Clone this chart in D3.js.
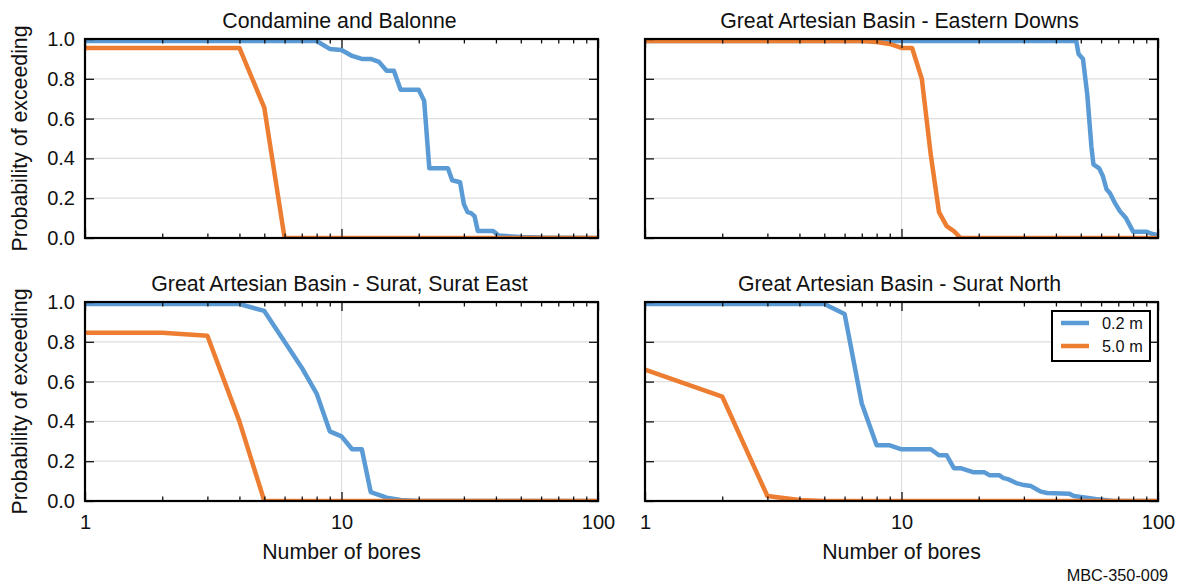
<!DOCTYPE html>
<html><head><meta charset="utf-8">
<script src="https://cdn.jsdelivr.net/npm/d3@7"></script>
<style>
body{margin:0;background:#fff}
svg{display:block}
text{font-family:"Liberation Sans",Arial,sans-serif;fill:#111}
</style>
</head><body>
<svg id="chart" width="1182" height="585"></svg>
<script>
// ---------------- data ----------------
const panelTitles = [
  "Condamine and Balonne",
  "Great Artesian Basin - Eastern Downs",
  "Great Artesian Basin - Surat, Surat East",
  "Great Artesian Basin - Surat North"
];
const seriesLabels = ["0.2 m", "5.0 m"];
const xMajorTicks = [1, 10, 100];
const xMinorTicks = [2,3,4,5,6,7,8,9,20,30,40,50,60,70,80,90];
const yTicks = [0, 0.2, 0.4, 0.6, 0.8, 1.0];
const xAxisTitle = "Number of bores";
const yAxisTitle = "Probability of exceeding";
const footnote = "MBC-350-009";

// [number of bores, probability of exceeding]
const condamine02 = [[1,0.99],[8,0.99],[9,0.95],[10,0.945],[11,0.915],[12,0.9],[13,0.9],[14,0.885],[15,0.84],[16,0.84],[17,0.745],[20,0.745],[21,0.69],[22,0.35],[26,0.35],[27,0.29],[29,0.28],[30,0.17],[31,0.13],[32,0.125],[33,0.11],[34,0.035],[39,0.035],[41,0.012],[50,0.005],[60,0.002],[100,0]];
const condamine50 = [[1,0.955],[4,0.955],[5,0.655],[6,0],[100,0]];

const easternDowns02 = [[1,0.99],[48,0.99],[49,0.925],[51,0.9],[53,0.72],[55,0.46],[56,0.37],[59,0.35],[61,0.31],[63,0.245],[65,0.225],[68,0.175],[71,0.135],[75,0.1],[80,0.032],[90,0.032],[95,0.02],[100,0.015]];
const easternDowns50 = [[1,0.99],[7,0.99],[8,0.985],[9,0.975],[10,0.955],[11,0.955],[12,0.8],[13,0.42],[14,0.13],[15,0.06],[16,0.035],[17,0],[100,0]];

const surat02 = [[1,0.99],[4,0.99],[5,0.955],[6,0.8],[7,0.67],[8,0.54],[9,0.35],[10,0.325],[11,0.26],[12,0.26],[13,0.045],[15,0.017],[17,0.005],[20,0],[100,0]];
const surat50 = [[1,0.845],[2,0.845],[3,0.83],[4,0.4],[5,0],[100,0]];

const suratNorth02 = [[1,0.99],[5,0.99],[6,0.94],[7,0.49],[8,0.28],[9,0.28],[10,0.26],[13,0.26],[14,0.23],[15,0.23],[16,0.165],[17,0.165],[19,0.145],[21,0.145],[22,0.13],[24,0.13],[25,0.115],[26,0.11],[28,0.09],[30,0.08],[32,0.075],[34,0.055],[35,0.047],[37,0.04],[45,0.037],[47,0.025],[50,0.02],[57,0.01],[67,0],[100,0]];
const suratNorth50 = [[1,0.66],[2,0.525],[3,0.025],[4,0.005],[5,0],[100,0]];

const panelSeries = [
  [condamine02, condamine50],
  [easternDowns02, easternDowns50],
  [surat02, surat50],
  [suratNorth02, suratNorth50]
];

// ---------------- layout / style ----------------
const colors = ["#5b9bd5", "#ed7d31"];
const colLefts = [85, 645];
const rowTops = [39, 302];
const pw = 513, ph = 199;
const fontTick = 20, fontLabel = 21.3, fontSmall = 16.3;

const svg = d3.select("#chart");
const defs = svg.append("defs");

panelTitles.forEach((title, i) => {
  const col = i % 2, row = Math.floor(i / 2);
  const x0 = colLefts[col], y0 = rowTops[row];
  const x = d3.scaleLog().domain([1, 100]).range([x0, x0 + pw]);
  const y = d3.scaleLinear().domain([0, 1]).range([y0 + ph, y0]);
  const g = svg.append("g");

  defs.append("clipPath").attr("id", "clip" + i)
    .append("rect").attr("x", x0).attr("y", y0).attr("width", pw).attr("height", ph);

  // grid
  g.append("g").selectAll("line").data(yTicks.slice(1, -1)).join("line")
    .attr("x1", x0).attr("x2", x0 + pw)
    .attr("y1", d => y(d)).attr("y2", d => y(d))
    .attr("stroke", "#dedede").attr("stroke-width", 1.2);
  g.append("line").attr("x1", x(10)).attr("x2", x(10)).attr("y1", y0).attr("y2", y0 + ph)
    .attr("stroke", "#dedede").attr("stroke-width", 1.2);

  // lines
  const line = d3.line().x(d => x(d[0])).y(d => y(d[1]));
  const lg = g.append("g").attr("clip-path", `url(#clip${i})`);
  panelSeries[i].forEach((s, k) => {
    lg.append("path").datum(s).attr("d", line)
      .attr("fill", "none").attr("stroke", colors[k]).attr("stroke-width", 4.5)
      .attr("stroke-linejoin", "round");
  });

  // axes with inward ticks
  const fmtY = d3.format(".1f");
  const axB = d3.axisBottom(x).tickValues(xMajorTicks).tickSizeInner(-9).tickSizeOuter(0).tickPadding(14)
    .tickFormat(row === 1 ? d3.format("d") : () => "");
  const axBm = d3.axisBottom(x).tickValues(xMinorTicks).tickSizeInner(-4.5).tickSizeOuter(0).tickFormat(() => "");
  const axT = d3.axisTop(x).tickValues(xMajorTicks).tickSizeInner(-9).tickSizeOuter(0).tickFormat(() => "");
  const axTm = d3.axisTop(x).tickValues(xMinorTicks).tickSizeInner(-4.5).tickSizeOuter(0).tickFormat(() => "");
  const axL = d3.axisLeft(y).tickValues(yTicks).tickSizeInner(-9).tickSizeOuter(0).tickPadding(10)
    .tickFormat(col === 0 ? fmtY : () => "");
  const axR = d3.axisRight(y).tickValues(yTicks).tickSizeInner(-9).tickSizeOuter(0).tickFormat(() => "");

  const put = (ax, tx, ty) => {
    const a = g.append("g").attr("transform", `translate(${tx},${ty})`).call(ax);
    a.select(".domain").remove();
    a.selectAll("line").attr("stroke", "#111").attr("stroke-width", 1.3);
    a.selectAll("text").attr("font-size", fontTick).attr("fill", "#111")
      .style("font-family", '"Liberation Sans", Arial, sans-serif');
    return a;
  };
  put(axB, 0, y0 + ph);
  put(axBm, 0, y0 + ph);
  put(axT, 0, y0);
  put(axTm, 0, y0);
  put(axL, x0, 0);
  put(axR, x0 + pw, 0);

  // frame
  g.append("rect").attr("x", x0).attr("y", y0).attr("width", pw).attr("height", ph)
    .attr("fill", "none").attr("stroke", "#000").attr("stroke-width", 2.2);

  // title
  g.append("text").attr("x", x0 + pw / 2 - 2).attr("y", y0 - 11)
    .attr("text-anchor", "middle").attr("font-size", fontLabel).text(title);

  if (col === 0) {
    g.append("text")
      .attr("transform", `translate(${27},${y0 + ph / 2}) rotate(-90)`)
      .attr("text-anchor", "middle").attr("font-size", fontLabel).text(yAxisTitle);
  }
  if (row === 1) {
    g.append("text").attr("x", x0 + pw / 2).attr("y", y0 + ph + 58)
      .attr("text-anchor", "middle").attr("font-size", fontLabel).text(xAxisTitle);
  }

  // legend
  if (i === 3) {
    const lgX = 1052, lgY = 311;
    const leg = g.append("g");
    leg.append("rect").attr("x", lgX).attr("y", lgY).attr("width", 98).attr("height", 50)
      .attr("fill", "#fff").attr("stroke", "#000").attr("stroke-width", 2);
    seriesLabels.forEach((lab, k) => {
      const yy = lgY + 12 + k * 23;
      leg.append("line").attr("x1", lgX + 9).attr("x2", lgX + 37).attr("y1", yy).attr("y2", yy)
        .attr("stroke", colors[k]).attr("stroke-width", 4.5);
      leg.append("text").attr("x", lgX + 50).attr("y", yy + 6)
        .attr("font-size", fontSmall).text(lab);
    });
  }
});

svg.append("text").attr("x", 1168).attr("y", 581).attr("text-anchor", "end")
  .attr("font-size", fontSmall).text(footnote);
</script>
</body></html>
